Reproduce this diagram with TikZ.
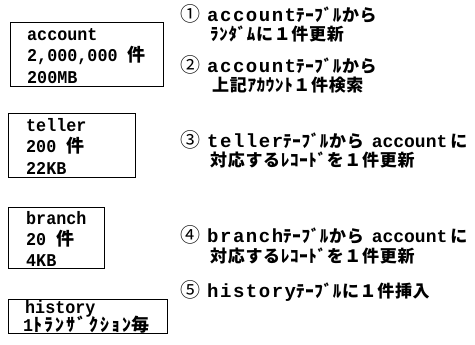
\documentclass[tikz,border=0pt]{standalone}
\usepackage{fontspec}
\setmainfont{Liberation Mono}
\newfontfamily\jp{Noto Sans CJK JP}
\newfontfamily\jpr[LetterSpace=4]{Noto Sans CJK JP}
\newfontfamily\jpk[LetterSpace=12]{Noto Sans CJK JP}
\newfontfamily\latsp[LetterSpace=8]{Liberation Mono}
\newfontfamily\latpl{Liberation Mono}
\newfontfamily\latbx[FakeStretch=0.93]{Liberation Mono}
\newcommand\Jr[1]{{\jpr\fontsize{17}{17}\selectfont #1}}
\newcommand\Jb[1]{{\jp\fontsize{18}{18}\selectfont #1}}
\newcommand\Jk[1]{{\jpk\fontsize{18}{18}\selectfont #1}}
\newcommand\Lp[1]{{\latpl\fontsize{18}{18}\selectfont #1}}
\begin{document}
\begin{tikzpicture}[x=1pt,y=1pt,
  tbox/.style={draw=black,line width=0.9pt,inner sep=0pt,anchor=north west},
  btxt/.style={anchor=base west,inner sep=0pt,font=\fontsize{18}{18}\selectfont\bfseries\latbx},
  rtxt/.style={anchor=base west,inner sep=0pt,font=\fontsize{19}{19}\selectfont\bfseries\latsp},
  num/.style={anchor=base west,inner sep=0pt,font=\fontsize{20}{20}\selectfont\jp}]
\useasboundingbox (0,0) rectangle (475,-345);
% boxes
\node[tbox,minimum width=153pt,minimum height=64pt] (acc) at (10,-22) {};
\node[tbox,minimum width=127pt,minimum height=64pt] (tel) at (8,-113) {};
\node[tbox,minimum width=96pt,minimum height=61pt] (bra) at (8,-207) {};
\node[tbox,minimum width=159pt,minimum height=34pt] (his) at (8,-299) {};
% box texts
\node[btxt] (acc1) at (27,-41) {account};
\node[btxt] (acc2) at (27,-62) {2,000,000 \Jb{件}};
\node[btxt] (acc3) at (27,-84) {200MB};
\node[btxt] (tel1) at (26,-132) {teller};
\node[btxt] (tel2) at (26,-153) {200 \Jb{件}};
\node[btxt] (tel3) at (26,-175) {22KB};
\node[btxt] (bra1) at (26,-225) {branch};
\node[btxt] (bra2) at (26,-246) {20 \Jb{件}};
\node[btxt] (bra3) at (26,-267) {4KB};
\node[btxt] (his1) at (25,-313) {history};
\node[btxt] (his2) at (23,-331) {1\Jk{ﾄﾗﾝｻﾞｸｼｮﾝ}\Jb{毎}};
% right side
\node[num] (n1) at (180,-22) {①};
\node[rtxt] (r1a) at (207,-22) {account\Jr{ﾃｰﾌﾞﾙから}};
\node[rtxt] (r1b) at (210,-41) {\Jr{ﾗﾝﾀﾞﾑに１件更新}};
\node[num] (n2) at (180,-73) {②};
\node[rtxt] (r2a) at (207,-73) {account\Jr{ﾃｰﾌﾞﾙから}};
\node[rtxt] (r2b) at (212,-92) {\Jr{上記ｱｶｳﾝﾄ１件検索}};
\node[num] (n3) at (180,-148) {③};
\node[rtxt] (r3a) at (207,-148) {teller\Jr{ﾃｰﾌﾞﾙから}\hspace{8pt}\Lp{account}\hspace{3pt}\Jr{に}};
\node[rtxt] (r3b) at (210,-167) {\Jr{対応するﾚｺｰﾄﾞを１件更新}};
\node[num] (n4) at (180,-243) {④};
\node[rtxt] (r4a) at (207,-243) {branch\Jr{ﾃｰﾌﾞﾙから}\hspace{8pt}\Lp{account}\hspace{3pt}\Jr{に}};
\node[rtxt] (r4b) at (210,-262) {\Jr{対応するﾚｺｰﾄﾞを１件更新}};
\node[num] (n5) at (180,-298) {⑤};
\node[rtxt] (r5a) at (207,-298) {history\Jr{ﾃｰﾌﾞﾙに１件挿入}};
\end{tikzpicture}
\end{document}
